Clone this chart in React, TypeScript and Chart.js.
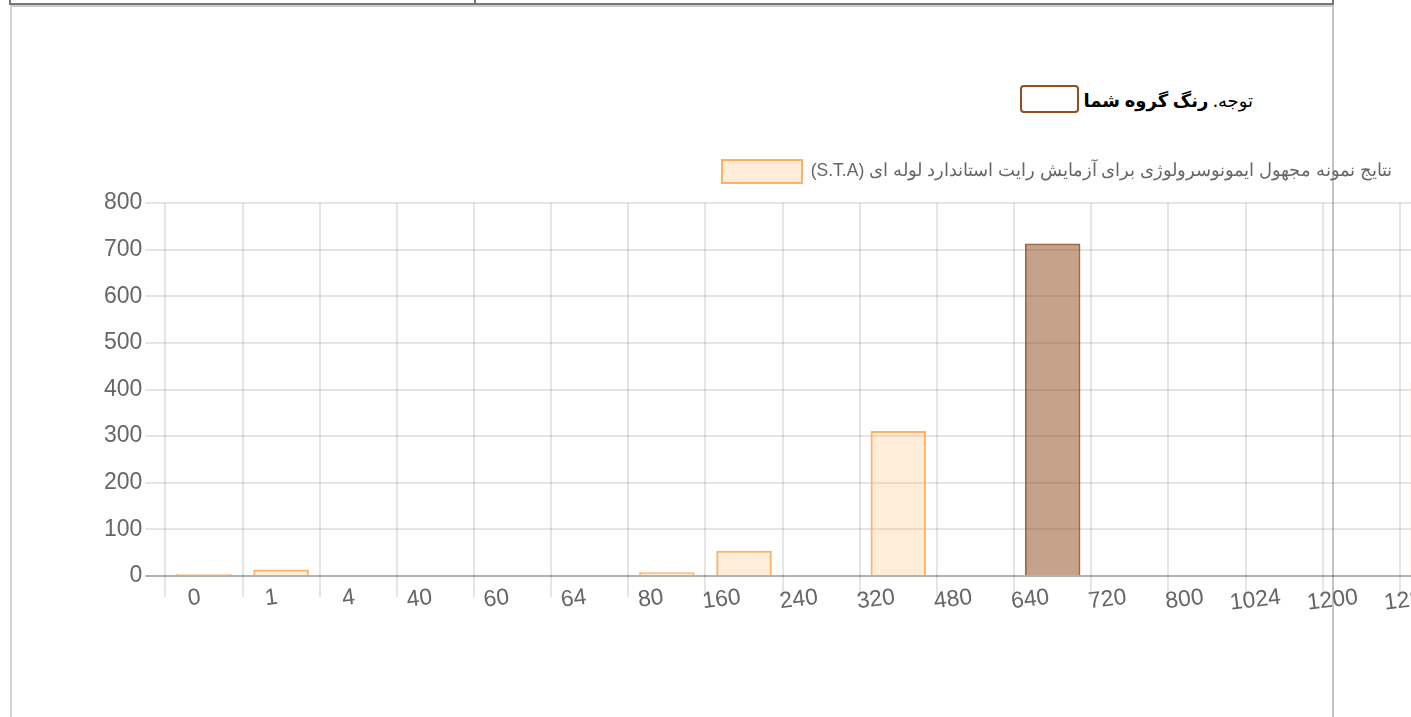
import React, { useEffect, useRef } from 'react';
import { Chart, registerables } from 'chart.js';

Chart.register(...registerables);

// ---- data ----
const categories = ['0', '1', '4', '40', '60', '64', '80', '160', '240', '320', '480', '640', '720', '800', '1024', '1200', '1280'];
const sampleCounts = [5, 14, 0, 1, 0, 0, 8, 54, 0, 311, 0, 713, 0, 0, 0, 0, 414];
const yMin = 0;
const yMax = 800;
const yStep = 100;
const groupCategory = '640';
const seriesLabel = 'نتایج نمونه مجهول ایمونوسرولوژی برای آزمایش رایت استاندارد لوله ای (S.T.A)';
const noteLead = 'توجه.';
const noteBold = 'رنگ گروه شما';

// ---- styles ----
const ORANGE_FILL = 'rgba(255, 159, 64, 0.2)';
const ORANGE_BORDER = 'rgba(255, 159, 64, 0.8)';
const BROWN_FILL = 'rgba(139, 69, 19, 0.5)';
const BROWN_BORDER = 'rgba(139, 69, 19, 0.8)';
const GROUP_COLOR = 'rgb(150, 78, 28)';
const FONT_FAMILY = "'Helvetica Neue', Helvetica, Arial, 'Liberation Sans', sans-serif";
const FONT_SIZE = 23;
const LEGEND_FONT_SIZE = 17.5;
const LEGEND_BOX_X = 621; // canvas-relative position of the legend swatch
const LEGEND_BOX_Y = 10;

const legendPlacement = {
  id: 'legendPlacement',
  afterLayout(chart: any) {
    const lg = chart.legend;
    if (!lg || !lg.lineWidths || !lg.lineWidths.length) return;
    const pad = lg.options.labels.padding;
    const start = (lg.left + pad + lg.right - lg.lineWidths[0]) / 2;
    const dx = LEGEND_BOX_X - start;
    const dy = LEGEND_BOX_Y - (lg.top + pad);
    lg.left += dx;
    lg.right += dx;
    lg.top += dy;
    lg.bottom += dy;
  },
};

function BarChart() {
  const ref = useRef<HTMLCanvasElement | null>(null);
  useEffect(() => {
    if (!ref.current) return;
    const groupIndex = categories.indexOf(groupCategory);
    const chart = new Chart(ref.current, {
      type: 'bar',
      data: {
        labels: categories,
        datasets: [
          {
            label: seriesLabel,
            data: sampleCounts,
            backgroundColor: (ctx: any) => (ctx.dataIndex === groupIndex ? BROWN_FILL : ORANGE_FILL),
            borderColor: (ctx: any) => (ctx.dataIndex === groupIndex ? BROWN_BORDER : ORANGE_BORDER),
            borderWidth: 2,
            barPercentage: 0.9,
            categoryPercentage: 0.8,
          },
        ],
      },
      options: {
        responsive: false,
        animation: false,
        layout: { padding: { left: 0, right: 14, top: 0, bottom: 74 } },
        plugins: {
          tooltip: { enabled: false },
          legend: {
            display: true,
            position: 'top',
            textDirection: 'rtl',
            labels: {
              boxWidth: 80,
              boxHeight: 23,
              padding: 20,
              color: '#666',
              font: { family: FONT_FAMILY, size: LEGEND_FONT_SIZE },
            },
          },
        },
        scales: {
          x: {
            offset: true,
            grid: {
              offset: true,
              color: 'rgba(0,0,0,0.1)',
              lineWidth: 2,
              tickLength: 21,
            },
            border: { display: false },
            ticks: {
              autoSkip: false,
              minRotation: 7,
              maxRotation: 7,
              mirror: true,
              padding: -35,
              color: '#666',
              font: { family: FONT_FAMILY, size: FONT_SIZE },
            },
          },
          y: {
            min: yMin,
            max: yMax,
            grid: {
              color: (ctx: any) => (ctx.tick && ctx.tick.value === 0 ? 'rgba(0,0,0,0.3)' : 'rgba(0,0,0,0.1)'),
              lineWidth: 2,
              tickLength: 20,
            },
            border: { display: false },
            ticks: {
              stepSize: yStep,
              padding: 3,
              color: '#666',
              font: { family: FONT_FAMILY, size: FONT_SIZE },
            },
          },
        },
      },
      plugins: [legendPlacement],
    } as any);
    return () => chart.destroy();
  }, []);
  return (
    <canvas
      ref={ref}
      width={1390}
      height={500}
      style={{ position: 'absolute', left: 101, top: 150, width: 1390, height: 500, display: 'block' }}
    />
  );
}

export default function App() {
  return (
    <div
      style={{
        position: 'fixed',
        left: 0,
        top: 0,
        width: 1411,
        height: 717,
        overflow: 'hidden',
        background: '#fff',
      }}
    >
      {/* table remnants at the top */}
      <div style={{ position: 'absolute', left: 9, top: 0, width: 2, height: 5, background: '#777' }} />
      <div style={{ position: 'absolute', left: 474, top: 0, width: 2, height: 4, background: '#777' }} />
      <div style={{ position: 'absolute', left: 1332, top: 0, width: 2, height: 5, background: '#777' }} />
      <div style={{ position: 'absolute', left: 9, top: 3, width: 1325, height: 2, background: '#777' }} />
      <div style={{ position: 'absolute', left: 11, top: 5, width: 1321, height: 2, background: '#ccc' }} />
      {/* container borders */}
      <div style={{ position: 'absolute', left: 10, top: 5, width: 2, height: 712, background: '#d4d4d4' }} />
      <div style={{ position: 'absolute', left: 1332, top: 5, width: 2, height: 712, background: '#c4c4c4' }} />
      {/* note */}
      <div
        style={{
          position: 'absolute',
          left: 1020,
          top: 85,
          width: 59,
          height: 28,
          boxSizing: 'border-box',
          border: `2px solid ${GROUP_COLOR}`,
          borderRadius: 4,
        }}
      />
      <div
        dir="rtl"
        style={{
          position: 'absolute',
          right: 1411 - 1253,
          top: 86,
          fontFamily: "'Noto Sans', 'DejaVu Sans', sans-serif",
          fontSize: 18,
          lineHeight: '28px',
          color: '#000',
          whiteSpace: 'nowrap',
        }}
      >
        {noteLead} <b>{noteBold}</b>
      </div>
      <BarChart />
    </div>
  );
}
